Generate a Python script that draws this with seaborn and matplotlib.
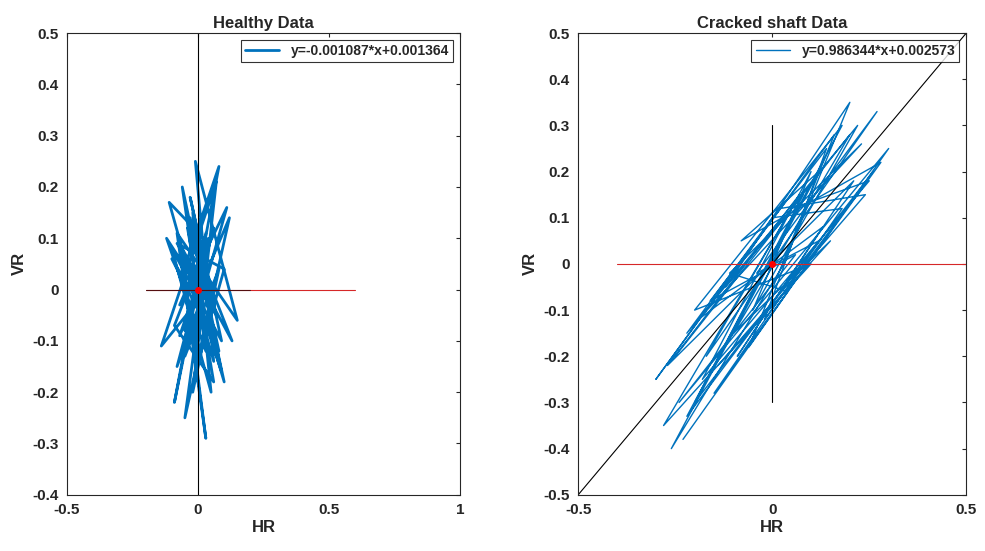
import numpy as np
import pandas as pd
import matplotlib
matplotlib.use('Agg')
import matplotlib.pyplot as plt
import seaborn as sns

sns.set_style('white')
plt.rcParams['font.family'] = ['Liberation Sans', 'DejaVu Sans']
plt.rcParams['font.weight'] = 'bold'

# estimated orbit samples, healthy shaft
hr_h = [0.02, -0.05, 0.06, -0.08, 0.04, -0.03, 0.09, -0.10, 0.05, -0.02, 0.07, -0.12, 0.03, -0.06, 0.10,
        -0.04, 0.08, -0.09, 0.01, -0.07, 0.12, -0.05, 0.04, -0.11, 0.06, -0.01, 0.15, -0.08, 0.03, -0.06,
        0.09, -0.03, 0.05, -0.14, 0.07, -0.02, 0.08, -0.05, 0.11, -0.07, 0.04, -0.09, 0.06, -0.04, 0.13,
        -0.06, 0.02, -0.10, 0.08, -0.03, 0.05, -0.08, 0.10, -0.01, 0.03]
vr_h = [0.05, -0.08, 0.12, -0.15, 0.02, 0.18, -0.10, 0.08, -0.20, 0.15, -0.05, 0.10, -0.12, 0.20, -0.18,
        0.06, 0.24, -0.22, 0.03, -0.09, 0.14, -0.25, 0.09, 0.17, -0.14, 0.25, -0.06, 0.11, -0.29, 0.07,
        -0.16, 0.13, 0.01, -0.11, 0.21, -0.20, 0.04, -0.13, 0.16, -0.03, 0.10, -0.07, -0.18, 0.12, -0.10,
        0.08, -0.04, 0.06, -0.12, 0.14, -0.02, 0.09, 0.04, -0.16, 0.11]

# estimated orbit samples, cracked shaft
hr_c = [-0.25, 0.20, -0.10, 0.15, -0.28, 0.05, 0.25, -0.18, 0.10, -0.05, 0.22, -0.22, 0.00, 0.18, -0.15,
        0.28, -0.08, 0.12, -0.26, 0.03, 0.20, -0.12, 0.08, -0.20, 0.26, -0.02, 0.14, -0.16, 0.06, -0.24,
        0.30, -0.06, 0.16, -0.30, 0.02, 0.24, -0.14, 0.10, -0.20, 0.18, -0.22, 0.12, -0.04, 0.27, -0.17,
        0.07, -0.27, 0.21, -0.09, 0.13, -0.19, 0.23, -0.11, 0.04, -0.23]
vr_c = [-0.20, 0.28, -0.15, 0.05, -0.35, 0.12, 0.18, -0.25, 0.20, -0.10, 0.30, -0.15, 0.10, 0.12, -0.28,
        0.22, 0.05, 0.20, -0.40, 0.00, 0.35, -0.05, 0.15, -0.30, 0.20, -0.12, 0.25, -0.08, 0.02, -0.30,
        0.25, -0.18, 0.28, -0.25, 0.12, 0.15, -0.22, 0.00, -0.10, 0.30, -0.33, 0.05, -0.02, 0.33, -0.20,
        0.15, -0.22, 0.18, -0.20, 0.08, -0.12, 0.26, -0.02, -0.06, -0.38]

blue = '#0072BD'
fig = plt.figure(figsize=(9.85, 5.51), dpi=100)
ax1 = fig.add_axes([0.068, 0.102, 0.399, 0.838])
ax2 = fig.add_axes([0.587, 0.102, 0.394, 0.838])

sns.lineplot(x=hr_h, y=vr_h, sort=False, estimator=None, ax=ax1, color=blue, lw=2,
             label='y=-0.001087*x+0.001364')
ax1.plot([0, 0], [-0.4, 0.5], color='black', lw=0.8)
ax1.plot([-0.2, 0.6], [0, 0], color='#d62728', lw=0.8)
ax1.plot([-0.2, 0.2], [0, 0], color='black', lw=0.8, alpha=0.6)
ax1.plot([0], [0], 'o', color='red', ms=4)
ax1.set_xlim(-0.5, 1)
ax1.set_ylim(-0.4, 0.5)
ax1.set_xticks([-0.5, 0, 0.5, 1])
ax1.set_xticklabels(['-0.5', '0', '0.5', '1'])
ax1.set_yticks(np.arange(-0.4, 0.51, 0.1))
ax1.set_yticklabels(['-0.4', '-0.3', '-0.2', '-0.1', '0', '0.1', '0.2', '0.3', '0.4', '0.5'])
ax1.set_title('Healthy Data', fontsize=12, fontweight='bold', pad=4)

sns.lineplot(x=hr_c, y=vr_c, sort=False, estimator=None, ax=ax2, color=blue, lw=1.0,
             label='y=0.986344*x+0.002573')
ax2.plot([-0.5, 0.5], [-0.5, 0.5], color='black', lw=0.8)
ax2.plot([0, 0], [-0.3, 0.3], color='black', lw=0.8)
ax2.plot([-0.4, 0.5], [0, 0], color='#d62728', lw=0.8)
ax2.plot([0], [0], 'o', color='red', ms=4)
ax2.set_xlim(-0.5, 0.5)
ax2.set_ylim(-0.5, 0.5)
ax2.set_xticks([-0.5, 0, 0.5])
ax2.set_xticklabels(['-0.5', '0', '0.5'])
ax2.set_yticks(np.arange(-0.5, 0.51, 0.1))
ax2.set_yticklabels(['-0.5', '-0.4', '-0.3', '-0.2', '-0.1', '0', '0.1', '0.2', '0.3', '0.4', '0.5'])
ax2.set_title('Cracked shaft Data', fontsize=12, fontweight='bold', pad=4)

for ax in (ax1, ax2):
    ax.set_xlabel('HR', fontsize=12, fontweight='bold', labelpad=2)
    ax.set_ylabel('VR', fontsize=12, fontweight='bold', labelpad=4)
    ax.tick_params(labelsize=11, direction='in', length=3, pad=6, top=True, right=True,
                   labelcolor='#262626')
    for s in ax.spines.values():
        s.set_color('#262626')
        s.set_linewidth(0.8)
    leg = ax.legend(loc='upper right', fontsize=10, frameon=True, fancybox=False,
                    edgecolor='black', borderpad=0.3, handlelength=2.5)
    leg.get_frame().set_linewidth(0.8)

fig.savefig('out.png', dpi=100)
